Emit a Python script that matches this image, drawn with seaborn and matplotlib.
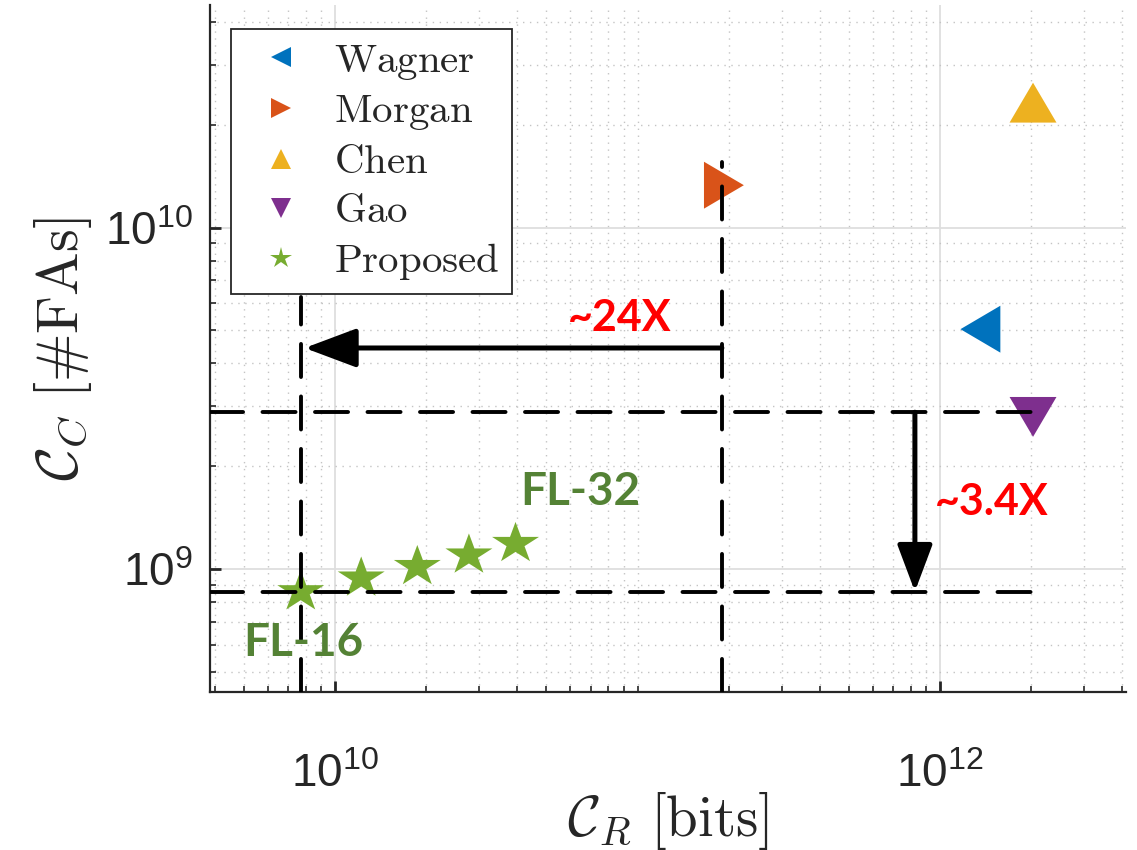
import numpy as np
import pandas as pd
import matplotlib
matplotlib.use("Agg")
import matplotlib.pyplot as plt
import seaborn as sns
from matplotlib.path import Path
from matplotlib.lines import Line2D
from matplotlib.patches import ArrowStyle
from matplotlib.ticker import FixedLocator, LogLocator, LogFormatterSciNotation, NullFormatter

# ---------------- data ----------------
methods = ["Wagner", "Morgan", "Chen", "Gao"]
method_cr = [1.36e12, 1.93e11, 2.03e12, 2.03e12]     # C_R [bits]
method_cc = [5.04e9, 1.33e10, 2.32e10, 2.79e9]       # C_C [#FAs]
proposed_cr = [7.7e9, 1.22e10, 1.87e10, 2.77e10, 3.95e10]
proposed_cc = [8.58e8, 9.41e8, 1.017e9, 1.099e9, 1.188e9]
proposed_tags = ["FL-16", "FL-32"]
legend_order = ["Wagner", "Morgan", "Chen", "Gao", "Proposed"]
colors = ["#0072BD", "#D95319", "#EDB120", "#7E2F8E", "#77AC30"]
guide_cr = [7.7e9, 1.9e11]        # vertical dashed guides
guide_cc = [8.6e8, 2.88e9]        # horizontal dashed guides
gain_labels = ["~24X", "~3.4X"]
x_ticks = [1e10, 1e12]
y_ticks = [1e9, 1e10]
x_lim = [3.85e9, 4.12e12]
y_lim = [4.37e8, 4.48e10]

# ---------------- style ----------------
sns.set_style("white")
plt.rcParams["font.family"] = ["Liberation Sans", "DejaVu Sans"]
plt.rcParams["mathtext.fontset"] = "cm"

def closed(verts):
    v = list(verts) + [verts[0]]
    codes = [Path.MOVETO] + [Path.LINETO] * (len(verts) - 1) + [Path.CLOSEPOLY]
    return Path(v, codes)

tri_up = closed([(-1, -0.85), (1, -0.85), (0, 0.85)])
tri_down = closed([(-1, 0.85), (1, 0.85), (0, -0.85)])
tri_left = closed([(0.85, -1), (0.85, 1), (-0.85, 0)])
tri_right = closed([(-0.85, -1), (-0.85, 1), (0.85, 0)])
ang = np.deg2rad(90 + 36 * np.arange(10))
rad = np.where(np.arange(10) % 2 == 0, 1.0, 0.382)
star = closed(list(zip(rad * np.cos(ang), 0.88 * rad * np.sin(ang))))

marker_map = {"Wagner": tri_left, "Morgan": tri_right, "Chen": tri_up,
              "Gao": tri_down, "Proposed": star}
legend_marker = {"Wagner": "<", "Morgan": ">", "Chen": "^", "Gao": "v", "Proposed": "*"}
palette = dict(zip(legend_order, colors))

df = pd.DataFrame({
    "method": methods + ["Proposed"] * len(proposed_cr),
    "cr": method_cr + proposed_cr,
    "cc": method_cc + proposed_cc,
})

fig = plt.figure(figsize=(11.37, 8.5), dpi=100)
ax = fig.add_axes([209.7 / 1137, 1 - 692 / 850, (1126 - 209.7) / 1137, (692 - 5) / 850])

sns.scatterplot(data=df, x="cr", y="cc", hue="method", style="method",
                palette=palette, markers=marker_map, s=1142, linewidth=0,
                legend=False, ax=ax, zorder=3)

ax.set_xscale("log")
ax.set_yscale("log")
ax.set_xlim(*x_lim)
ax.set_ylim(*y_lim)

# ticks / grid
ax.xaxis.set_major_locator(FixedLocator(x_ticks))
ax.yaxis.set_major_locator(FixedLocator(y_ticks))
ax.xaxis.set_major_formatter(LogFormatterSciNotation())
ax.yaxis.set_major_formatter(LogFormatterSciNotation())
ax.xaxis.set_minor_locator(LogLocator(base=10, subs=np.arange(1, 10), numticks=30))
ax.yaxis.set_minor_locator(LogLocator(base=10, subs=np.arange(1, 10), numticks=30))
ax.xaxis.set_minor_formatter(NullFormatter())
ax.yaxis.set_minor_formatter(NullFormatter())
ax.tick_params(which="both", direction="in", colors="#262626", top=False, right=False,
               bottom=True, left=True)
ax.tick_params(which="major", length=8, width=2, labelsize=33)
ax.tick_params(axis="x", which="major", pad=44)
ax.tick_params(axis="y", which="major", pad=12)
ax.tick_params(which="minor", length=4, width=1.2)
ax.grid(which="major", color="#dedede", lw=1.3, ls="-", zorder=0)
ax.grid(which="minor", color="#c4c4c4", lw=1.0, ls=(0, (1, 4)), zorder=0)
ax.set_axisbelow(True)
for side in ["top", "right"]:
    ax.spines[side].set_visible(False)
for side in ["left", "bottom"]:
    ax.spines[side].set_color("#262626")
    ax.spines[side].set_linewidth(1.6)

# dashed guide lines
dash = dict(color="black", lw=2.8, ls=(0, (8.5, 5)), dash_capstyle="round", zorder=4)
ax.plot([x_lim[0], 2.1e12], [guide_cc[1], guide_cc[1]], **dash)
ax.plot([x_lim[0], 2.1e12], [guide_cc[0], guide_cc[0]], **dash)
ax.plot([guide_cr[0], guide_cr[0]], [y_lim[0], 6.25e9], **dash)
ax.plot([guide_cr[1], guide_cr[1]], [y_lim[0], 1.56e10], **dash)

# arrows
astyle = ArrowStyle("-|>", head_length=0.8, head_width=0.3)
ax.annotate("", xy=(guide_cr[0] * 1.03, 4.44e9), xytext=(guide_cr[1], 4.44e9),
            arrowprops=dict(arrowstyle=astyle, lw=3.6, color="black",
                            mutation_scale=40, shrinkA=0, shrinkB=0), zorder=5)
ax.annotate("", xy=(8.26e11, guide_cc[0]), xytext=(8.26e11, guide_cc[1]),
            arrowprops=dict(arrowstyle=astyle, lw=3.6, color="black",
                            mutation_scale=36, shrinkA=0, shrinkB=0), zorder=5)

# texts
bold = dict(family=["Lato", "DejaVu Sans"], fontweight="bold", ha="center", va="center", zorder=6)
ax.text(8.75e10, 5.43e9, gain_labels[0], color="#FF0000", fontsize=31, **bold)
ax.text(1.48e12, 1.57e9, gain_labels[1], color="#FF0000", fontsize=31, **bold)
ax.text(6.46e10, 1.68e9, proposed_tags[1], color="#548235", fontsize=33, **bold)
ax.text(7.83e9, 6.07e8, proposed_tags[0], color="#548235", fontsize=33, **bold)

# labels
ax.set_xlabel(r"$\mathcal{C}_R\ [\mathrm{bits}]$", fontsize=41, color="#262626", labelpad=-5)
ax.set_ylabel(r"$\mathcal{C}_C\ [\#\mathrm{FAs}]$", fontsize=42, color="#262626", labelpad=8)

# legend
handles = [Line2D([], [], ls="none", marker=legend_marker[m], color=palette[m],
                  markersize=(14 if m != "Proposed" else 16), markeredgewidth=0)
           for m in legend_order]
leg = ax.legend(handles, [r"$\mathrm{%s}$" % m for m in legend_order],
                loc="upper left", bbox_to_anchor=(0.0232, 0.9646), borderaxespad=0,
                fontsize=29.5, frameon=True, fancybox=False, framealpha=1,
                edgecolor="#262626", borderpad=0.3, labelspacing=0.265,
                handlelength=1.84, handletextpad=0.37)
leg.get_frame().set_linewidth(1.3)
leg.set_zorder(10)

fig.savefig("out.png", dpi=100)
